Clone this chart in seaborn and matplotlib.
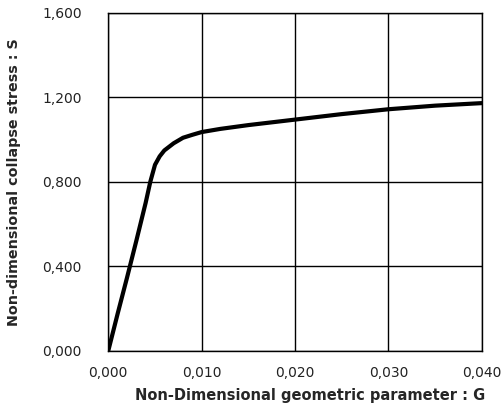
import numpy as np
import pandas as pd
import seaborn as sns
import matplotlib.pyplot as plt
from matplotlib.ticker import FuncFormatter

# values
G = [0.0, 0.001, 0.002, 0.003, 0.004, 0.0045, 0.005, 0.0055, 0.006, 0.007,
     0.008, 0.009, 0.010, 0.012, 0.015, 0.020, 0.025, 0.030, 0.035, 0.040]
S = [0.0, 0.175, 0.345, 0.52, 0.70, 0.80, 0.88, 0.92, 0.948, 0.982,
     1.008, 1.022, 1.035, 1.05, 1.068, 1.094, 1.12, 1.143, 1.16, 1.172]
x_ticks = [0.0, 0.01, 0.02, 0.03, 0.04]
y_ticks = [0.0, 0.4, 0.8, 1.2, 1.6]

df = pd.DataFrame({'G': G, 'S': S})

sns.set_style('white')
plt.rcParams['font.family'] = ['DejaVu Sans']

fig = plt.figure(figsize=(5.03, 4.07), dpi=100)
ax = fig.add_axes([0.2153, 0.1383, 0.7427, 0.8305])
sns.lineplot(data=df, x='G', y='S', color='black', linewidth=3, ax=ax)

ax.set_xlim(0, 0.04)
ax.set_ylim(0, 1.6)
ax.set_xticks(x_ticks)
ax.set_yticks(y_ticks)
fmt = FuncFormatter(lambda v, p: f"{v:.3f}".replace('.', ','))
ax.xaxis.set_major_formatter(fmt)
ax.yaxis.set_major_formatter(fmt)
ax.grid(True, color='black', linewidth=1)
ax.tick_params(length=0, labelsize=10, colors='#222222')
ax.tick_params(axis='y', pad=19)
ax.tick_params(axis='x', pad=11)
for sp in ax.spines.values():
    sp.set_color('black')
    sp.set_linewidth(1)

ax.set_xlabel('Non-Dimensional geometric parameter : G', fontsize=10.5, fontweight='bold')
ax.set_ylabel('Non-dimensional collapse stress : S', fontsize=10.3, fontweight='bold')
ax.xaxis.set_label_coords(0.54, -0.11)
ax.yaxis.set_label_coords(-0.235, 0.5)

fig.savefig('out.png', dpi=100)
